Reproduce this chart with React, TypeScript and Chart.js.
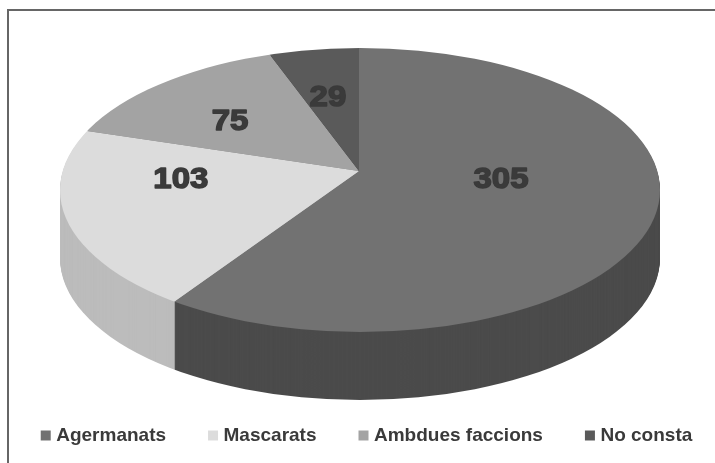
import React, { useEffect, useRef } from "react";
import { Chart, registerables } from "chart.js";

Chart.register(...registerables);

const categories = ["Agermanats", "Mascarats", "Ambdues faccions", "No consta"];
const values = [305, 103, 75, 29];
const topColors = ["#727272", "#dcdcdc", "#a3a3a3", "#5a5a5a"];
const sideColors = ["#4b4b4b", "#bcbcbc", "#8a8a8a", "#444444"];
// label anchors, as fractions of the pie's radii from the ellipse centre
const labelAnchors = [
  [0.47, -0.07],
  [-0.597, -0.07],
  [-0.433, -0.479],
  [-0.107, -0.648],
];

// the top face is an ellipse, and the slices' apex sits above its centre (perspective)
const RIM = { cx: 360, cy: 190, rx: 300, ry: 142, depth: 68 };
const APEX = { x: 359, y: 171, sx: 400, sy: 194 };
const LEGEND_PADDING = 46;
const LEGEND_TEXT_Y = 436;

const pie3d = {
  id: "pie3d",
  afterLayout(chart: any) {
    const lg = chart.legend;
    const h = lg.height;
    lg.top = LEGEND_TEXT_Y - LEGEND_PADDING - 10;
    lg.bottom = lg.top + h;
  },
  beforeDatasetsDraw(chart: any) {
    const ctx = chart.ctx;
    const arcs = chart.getDatasetMeta(0).data;
    const a0 = arcs[0];
    const R = a0.outerRadius;
    const place = (dy: number) => {
      ctx.beginPath();
      ctx.ellipse(RIM.cx, RIM.cy + dy, RIM.rx, RIM.ry, 0, 0, Math.PI * 2);
      ctx.clip();
      ctx.translate(APEX.x, APEX.y + dy);
      ctx.scale(APEX.sx / R, APEX.sy / R);
      ctx.translate(-a0.x, -a0.y);
    };
    for (let dy = RIM.depth; dy >= 1; dy--) {
      ctx.save();
      place(dy);
      arcs.forEach((arc: any, i: number) => {
        const saved = arc.options.backgroundColor;
        arc.options.backgroundColor = sideColors[i];
        arc.draw(ctx);
        arc.options.backgroundColor = saved;
      });
      ctx.restore();
    }
    ctx.save();
    place(0);
  },
  afterDatasetsDraw(chart: any) {
    const ctx = chart.ctx;
    ctx.restore();
    ctx.save();
    ctx.font = "bold 30px 'Liberation Sans'";
    ctx.textAlign = "center";
    ctx.textBaseline = "middle";
    ctx.fillStyle = "#3a3a3a";
    ctx.strokeStyle = "#3a3a3a";
    ctx.lineWidth = 1.5;
    ctx.lineJoin = "round";
    values.forEach((v, i) => {
      const x = RIM.cx + labelAnchors[i][0] * RIM.rx;
      const y = RIM.cy + labelAnchors[i][1] * RIM.ry;
      ctx.save();
      ctx.translate(x, y);
      ctx.scale(1.1, 1);
      ctx.strokeText(String(v), 0, 0);
      ctx.fillText(String(v), 0, 0);
      ctx.restore();
    });
    ctx.restore();
  },
};

export default function App() {
  const ref = useRef<HTMLCanvasElement>(null);
  useEffect(() => {
    document.body.style.margin = "0";
    document.body.style.background = "#ffffff";
    const chart = new Chart(ref.current!, {
      type: "pie",
      data: {
        labels: categories,
        datasets: [
          {
            data: values,
            backgroundColor: topColors,
            borderWidth: 0,
            clip: false,
          } as any,
        ],
      },
      options: {
        responsive: false,
        animation: false,
        layout: { padding: { bottom: 0, left: -19, right: -41, top: 0 } },
        plugins: {
          tooltip: { enabled: false },
          legend: {
            position: "bottom",
            labels: {
              usePointStyle: true,
              pointStyle: "rect",
              boxWidth: 2,
              boxHeight: 10,
              padding: LEGEND_PADDING,
              color: "#3a3a3a",
              font: { family: "'Liberation Sans'", size: 19, weight: "bold" },
            },
          },
        },
      },
      plugins: [pie3d],
    });
    return () => chart.destroy();
  }, []);
  return (
    <div style={{ position: "relative", width: 715, height: 463, overflow: "hidden" }}>
      <canvas ref={ref} width={715} height={463} style={{ display: "block" }} />
      <div
        style={{
          position: "absolute",
          left: 7,
          top: 9,
          width: 720,
          height: 470,
          border: "2px solid #666666",
          pointerEvents: "none",
        }}
      />
    </div>
  );
}
